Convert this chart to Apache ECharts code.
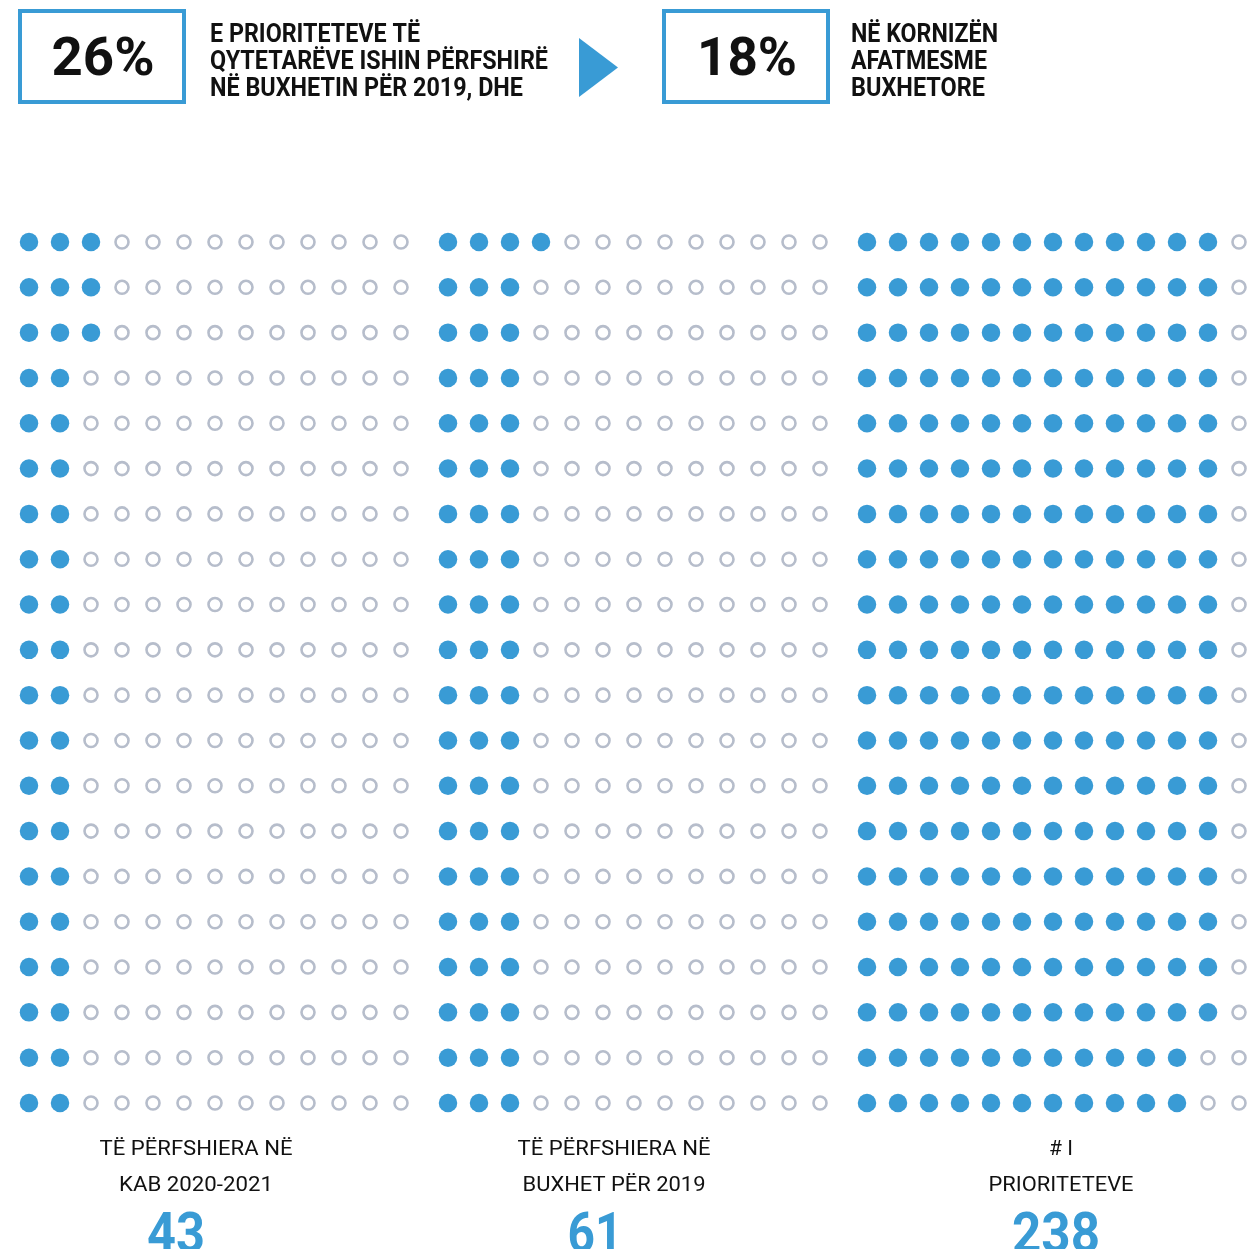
<!DOCTYPE html>
<html>
<head>
<meta charset="utf-8">
<script src="https://cdn.jsdelivr.net/npm/echarts@6/dist/echarts.min.js"></script>
<style>
html,body{margin:0;padding:0;background:#fff;}
#main{width:1247px;height:1249px;}
</style>
</head>
<body>
<div id="main"></div>
<script>
// ---- data ----
var counts = [43, 61, 238];
var labelLine1 = ['TË PËRFSHIERA NË', 'TË PËRFSHIERA NË', '# I'];
var labelLine2 = ['KAB 2020-2021', 'BUXHET PËR 2019', 'PRIORITETEVE'];
var percents = ['26%', '18%'];
var headerText1 = ['E PRIORITETEVE TË', 'QYTETARËVE ISHIN PËRFSHIRË', 'NË BUXHETIN PËR 2019, DHE'];
var headerText2 = ['NË KORNIZËN', 'AFATMESME', 'BUXHETORE'];
var COLS = 13, ROWS = 20;

// ---- layout / style ----
var BLUE = '#399bd5';
var GRAY = '#b6bdcb';
var gridLefts = [29, 448, 867];
var labelCenters = [196, 614, 1061];
var numCenters = [176, 595, 1056];
var label1Widths = [193, 193, null];
var label2Widths = [154, 183, 145];
var numWidths = [58, 55, 88];
var head1Widths = [210, 338, 313];
var head2Widths = [147, 136, 134];
var pctWidths = [103, 100];

var measureCtx = document.createElement('canvas').getContext('2d');
function fit(text, font, target) {
  if (!target) return 1;
  measureCtx.font = font;
  var w = measureCtx.measureText(text).width;
  return w > 0 ? target / w : 1;
}
function txt(text, x, y, font, fill, align, target) {
  var s = fit(text, font, target);
  return {type: 'text', x: x, y: y, scaleX: s, scaleY: 1, silent: true,
    style: {text: text, x: 0, y: 0, align: align, verticalAlign: 'middle', font: font, fill: fill}};
}

var grids = [], xAxes = [], yAxes = [], series = [], graphics = [];
var labFont = '400 21px Roboto, sans-serif';
var numFont = '700 56px Roboto, sans-serif';
counts.forEach(function (n, g) {
  grids.push({left: gridLefts[g], top: 242, width: 372, height: 861});
  xAxes.push({type: 'value', gridIndex: g, min: 0, max: COLS - 1, show: false});
  yAxes.push({type: 'value', gridIndex: g, min: 0, max: ROWS - 1, inverse: true, show: false});
  var filled = [], empty = [];
  for (var c = 0; c < COLS; c++) {
    for (var r = 0; r < ROWS; r++) {
      var idx = c * ROWS + r;
      (idx < n ? filled : empty).push([c, r]);
    }
  }
  series.push({
    type: 'scatter', xAxisIndex: g, yAxisIndex: g, data: empty, symbol: 'circle',
    symbolSize: 13, silent: true,
    itemStyle: {color: '#fff', borderColor: GRAY, borderWidth: 2.6, opacity: 1}
  });
  series.push({
    type: 'scatter', xAxisIndex: g, yAxisIndex: g, data: filled, symbol: 'circle',
    symbolSize: 18.5, silent: true, itemStyle: {color: BLUE, opacity: 1}
  });
  graphics.push(txt(labelLine1[g], labelCenters[g], 1150, labFont, '#111', 'center', label1Widths[g]));
  graphics.push(txt(labelLine2[g], labelCenters[g], 1186, labFont, '#111', 'center', label2Widths[g]));
  graphics.push(txt(String(n), numCenters[g], 1238, numFont, BLUE, 'center', numWidths[g]));
});

// header boxes
[[20, 11], [664, 11]].forEach(function (p, i) {
  graphics.push({type: 'rect', silent: true, shape: {x: p[0], y: p[1], width: 164, height: 91},
    style: {fill: '#fff', stroke: BLUE, lineWidth: 4}});
  graphics.push(txt(percents[i], p[0] + 83, 62, '700 53px Roboto, sans-serif', '#111', 'center', pctWidths[i]));
});
// arrow
graphics.push({type: 'polygon', silent: true, shape: {points: [[579, 38], [618, 67.5], [579, 97]]}, style: {fill: BLUE}});
var headFont = '700 25px Roboto, sans-serif';
headerText1.forEach(function (t, i) {
  graphics.push(txt(t, 210, 36 + i * 27, headFont, '#111', 'left', head1Widths[i]));
});
headerText2.forEach(function (t, i) {
  graphics.push(txt(t, 851, 36 + i * 27, headFont, '#111', 'left', head2Widths[i]));
});

var chart = echarts.init(document.getElementById('main'), null, {renderer: 'canvas'});
chart.setOption({
  animation: false,
  backgroundColor: '#fff',
  grid: grids, xAxis: xAxes, yAxis: yAxes, series: series,
  graphic: {elements: graphics}
});
</script>
</body>
</html>
